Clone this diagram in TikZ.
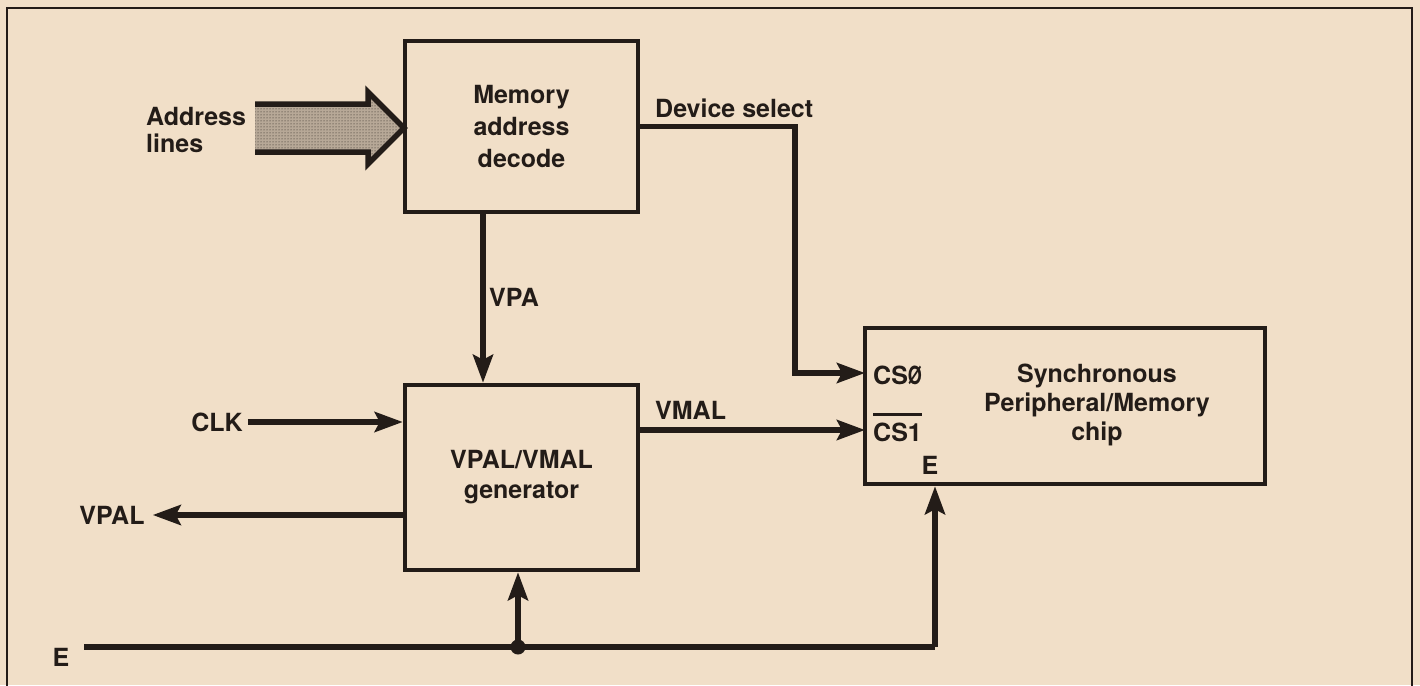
\documentclass[tikz,border=0pt]{standalone}
\usepackage{fontspec}
\usepackage{graphicx}
\setmainfont{TeX Gyre Heros}
\usetikzlibrary{arrows.meta,patterns}
\definecolor{paper}{HTML}{F1DFC8}
\definecolor{ink}{HTML}{231C18}
\begin{document}
\begin{tikzpicture}[x=1pt,y=-1pt,
  box/.style={draw=ink, line width=4.5pt, rectangle, inner sep=0pt, align=center,
    font=\fontsize{25}{32}\selectfont\bfseries, text=ink},
  wire/.style={draw=ink, line width=5.5pt},
  arr/.style={-{Stealth[length=28pt,width=20pt,inset=5pt]}},
  lbl/.style={font=\fontsize{25}{27}\selectfont\bfseries, text=ink, inner sep=0pt}]
\fill[paper] (0,0) rectangle (1420,685);
\useasboundingbox (0,0) rectangle (1420,685);
% frame
\draw[ink, line width=2.5pt] (7,690) -- (7,8) -- (1412,8) -- (1412,690);

% boxes
\node[box, minimum width=233pt, minimum height=171pt] (mad) at (521.5,126.5) {Memory\\address\\decode};
\node[box, minimum width=233pt, minimum height=185pt, font=\fontsize{25}{30}\selectfont\bfseries] (gen) at (521.5,477.5) {VPAL/VMAL\\generator};
\node[box, minimum width=400pt, minimum height=156pt] (chip) at (1065,406) {};
\node[lbl, align=center, font=\fontsize{25}{29}\selectfont\bfseries] (chipt) at (1097,405) {Synchronous\\Peripheral/Memory\\chip};

% labels
\node[lbl, align=left, anchor=west] (addr) at (146,130) {Address\\lines};
\node[lbl, anchor=west] (dsel) at (655,108) {Device select};
\node[lbl, anchor=west] (vpa) at (489,297) {VPA};
\node[lbl, anchor=west] (vmal) at (655,410) {VMAL};
\node[lbl] (clk) at (217,422) {CLK};
\node[lbl] (vpal) at (112,515) {VPAL};
\node[lbl] (e) at (61,657) {E};
\node[lbl, anchor=west] (cs0t) at (873,375) {CS\scalebox{0.72}[1]{Ø}};
\node[lbl, anchor=west] (cs1t) at (873,432) {CS1};
\node[lbl] (et) at (930,465) {E};
\draw[ink, line width=2.5pt] ([yshift=8pt]cs1t.north west) -- ([yshift=8pt]cs1t.north east);

% address lines arrow
\fill[ink!28!paper] (255,104) -- (368,104) -- (368,92) -- (404,128) -- (368,164) -- (368,152) -- (255,152) -- cycle;
\fill[pattern=dots, pattern color=ink] (255,104) -- (368,104) -- (368,92) -- (404,128) -- (368,164) -- (368,152) -- (255,152) -- cycle;
\draw[ink, line width=5.5pt, line join=miter] (255,104) -- (368,104) -- (368,92) -- (404,128) -- (368,164) -- (368,152) -- (255,152);

% coordinates
\coordinate (dsc) at (795,126.5);
\coordinate (cs0) at (865,373);
\coordinate (cs1) at (865,430);
\coordinate (eL) at (84,647);
\coordinate (eR) at (935,647);
\coordinate (vpaTop) at (483,212);

% connectors
\draw[wire, arr, line join=miter] (mad.east) -- (dsc) |- (cs0);
\draw[wire, arr] (vpaTop) -- (vpaTop |- gen.north);
\draw[wire, arr] ([xshift=5pt]clk.east) -- (gen.west |- clk.east);
\draw[wire, arr] (gen.west |- vpal.east) -- ([xshift=8pt]vpal.east);
\draw[wire, arr] (gen.east |- cs1) -- (cs1);
\draw[wire, line join=miter] (eL) -- (eR);
\draw[wire, arr] (eR) -- (eR |- chip.south);
\node[circle, fill=ink, inner sep=0pt, minimum size=15pt] (dot) at (518,647) {};
\draw[wire, arr] (dot.center) -- (dot.center |- gen.south);
\end{tikzpicture}
\end{document}
